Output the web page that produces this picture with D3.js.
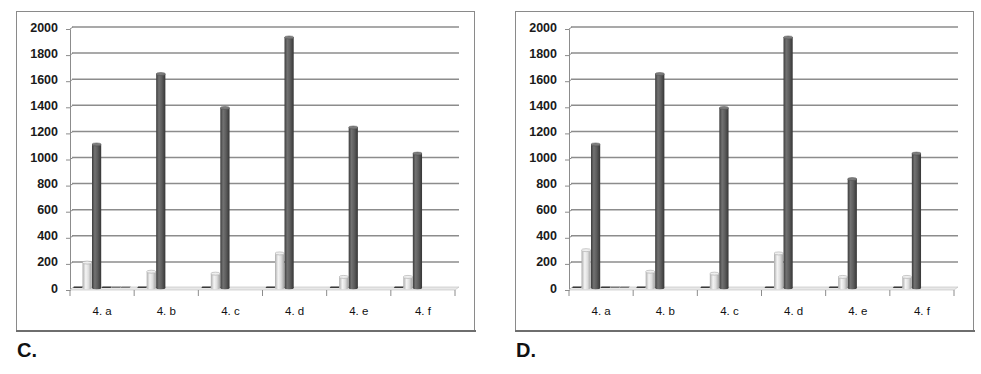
<!DOCTYPE html>
<html><head><meta charset="utf-8">
<script src="https://cdn.jsdelivr.net/npm/d3@7"></script>
<style>html,body{margin:0;padding:0;background:#fff;}svg{display:block;}</style>
</head><body>
<svg id="chart" width="981" height="374"></svg>
<script>
const categories = ["4. a","4. b","4. c","4. d","4. e","4. f"];
const yTicks = [0,200,400,600,800,1000,1200,1400,1600,1800,2000];
const seriesNames = ["s1","s2","s3","s4","s5","s6"];
const seriesTone = ["dark","light","dark","dark","mid","mid"];

const panelC_s1 = [4,4,4,4,4,4];
const panelC_s2 = [195,125,110,265,85,85];
const panelC_s3 = [1100,1640,1380,1920,1230,1030];
const panelC_s4 = [4,0,0,0,0,0];
const panelC_s5 = [3,0,0,0,0,0];
const panelC_s6 = [3,0,0,0,0,0];

const panelD_s1 = [4,4,4,4,4,4];
const panelD_s2 = [290,125,110,265,85,85];
const panelD_s3 = [1100,1640,1380,1920,835,1030];
const panelD_s4 = [4,0,0,0,0,0];
const panelD_s5 = [3,0,0,0,0,0];
const panelD_s6 = [3,0,0,0,0,0];

const panels = [
  {label:"C.", ox:0, series:[panelC_s1,panelC_s2,panelC_s3,panelC_s4,panelC_s5,panelC_s6]},
  {label:"D.", ox:499, series:[panelD_s1,panelD_s2,panelD_s3,panelD_s4,panelD_s5,panelD_s6]}
];

const svg = d3.select("#chart");
const defs = svg.append("defs");
function grad(id, stops){
  const g = defs.append("linearGradient").attr("id",id).attr("x1","0%").attr("x2","100%").attr("y1","0%").attr("y2","0%");
  stops.forEach(s=>g.append("stop").attr("offset",s[0]).attr("stop-color",s[1]));
}
grad("g-dark",[[0,"#3c3c3c"],[0.3,"#727272"],[0.6,"#5e5e5e"],[1,"#363636"]]);
grad("g-light",[[0,"#acacac"],[0.35,"#f4f4f4"],[0.65,"#dedede"],[1,"#a2a2a2"]]);
grad("g-mid",[[0,"#5a5a5a"],[0.4,"#9a9a9a"],[1,"#5a5a5a"]]);
const capFill = {dark:"#7c7c7c", light:"#efefef", mid:"#9a9a9a"};
const capStroke = {dark:"#4a4a4a", light:"#999", mid:"#666"};

panels.forEach(p=>{
  const g = svg.append("g").attr("transform",`translate(${p.ox},0)`);
  // frame
  g.append("rect").attr("x",16.5).attr("y",11.5).attr("width",458).attr("height",319)
    .attr("fill","#fff").attr("stroke","#8a8a8a").attr("stroke-width",1);
  g.append("line").attr("x1",16).attr("x2",476).attr("y1",331).attr("y2",331)
    .attr("stroke","#6e6e6e").attr("stroke-width",2);

  const y = d3.scaleLinear().domain([0,2000]).range([288,27]);
  const x = d3.scaleBand().domain(categories).range([70,455]).paddingInner(0).paddingOuter(0);
  const xs = d3.scaleBand().domain(seriesNames).range([3,60]).paddingInner(0);

  // gridlines
  g.append("g").selectAll("line").data(yTicks.filter(t=>t>0)).join("line")
    .attr("x1",72).attr("x2",459).attr("y1",d=>y(d)).attr("y2",d=>y(d))
    .attr("stroke","#8c8c8c").attr("stroke-width",1.5);
  g.append("g").selectAll("line").data(yTicks).join("line")
    .attr("x1",70).attr("x2",73).attr("y1",d=>y(d)+2).attr("y2",d=>y(d))
    .attr("stroke","#8c8c8c").attr("stroke-width",1);

  // y axis
  const yAxis = d3.axisLeft(y).tickValues(yTicks).tickSize(4).tickPadding(8).tickFormat(d3.format("d"));
  const ya = g.append("g").attr("transform","translate(70,2)").call(yAxis);
  ya.select(".domain").attr("stroke","#8c8c8c");
  ya.selectAll(".tick line").attr("stroke","#8c8c8c");
  ya.selectAll("text").attr("font-family","Liberation Sans, Arial, sans-serif")
    .attr("font-size","12.5px").attr("font-weight","bold").attr("fill","#1a1a1a").attr("dy","0.32em").attr("y",-2);

  // floor
  g.append("path").attr("d","M70,290 L455,290 L459,287 L73,287 Z")
    .attr("fill","#e8e8e8").attr("stroke","#bdbdbd").attr("stroke-width",0.6);

  // x axis
  const xAxis = d3.axisBottom(x).tickSize(6).tickPadding(11).tickSizeOuter(0);
  const xa = g.append("g").attr("transform","translate(0,290)").call(xAxis);
  xa.select(".domain").remove();
  xa.selectAll(".tick line").attr("stroke","#8c8c8c").attr("transform",`translate(${-x.bandwidth()/2},0)`);
  xa.append("line").attr("x1",455).attr("x2",455).attr("y1",0).attr("y2",6).attr("stroke","#8c8c8c");
  xa.selectAll("text").attr("font-family","Liberation Sans, Arial, sans-serif")
    .attr("font-size","11.5px").attr("fill","#111");

  // bars
  p.series.forEach((vals,si)=>{
    const tone = seriesTone[si];
    const bg = g.append("g");
    categories.forEach((c,ci)=>{
      const v = vals[ci];
      if(!(v>0)) return;
      const bx = x(c)+xs(seriesNames[si]);
      const w = xs.bandwidth()-0.3;
      const top = y(v), base = y(0);
      const small = (base-top) < 3;
      if(small){
        bg.append("path").attr("d",`M${bx},${base} L${bx+w},${base} L${bx+w+1},${base-1.5} L${bx+1},${base-1.5} Z`)
          .attr("fill", tone==="dark" ? "#3a3a3a" : "#7a7a7a");
        return;
      }
      bg.append("rect").attr("x",bx).attr("y",top).attr("width",w).attr("height",base-top)
        .attr("fill",`url(#g-${tone})`);
      bg.append("ellipse").attr("cx",bx+w/2).attr("cy",base).attr("rx",w/2).attr("ry",1.2)
        .attr("fill",`url(#g-${tone})`);
      bg.append("ellipse").attr("cx",bx+w/2).attr("cy",top).attr("rx",w/2).attr("ry",1.5)
        .attr("fill",capFill[tone]).attr("stroke",capStroke[tone]).attr("stroke-width",0.5);
    });
  });

  // panel label
  g.append("text").attr("x",17).attr("y",357).text(p.label)
    .attr("font-family","Liberation Sans, Arial, sans-serif").attr("font-weight","bold")
    .attr("font-size","20px").attr("fill","#111");
});
</script>
</body></html>
